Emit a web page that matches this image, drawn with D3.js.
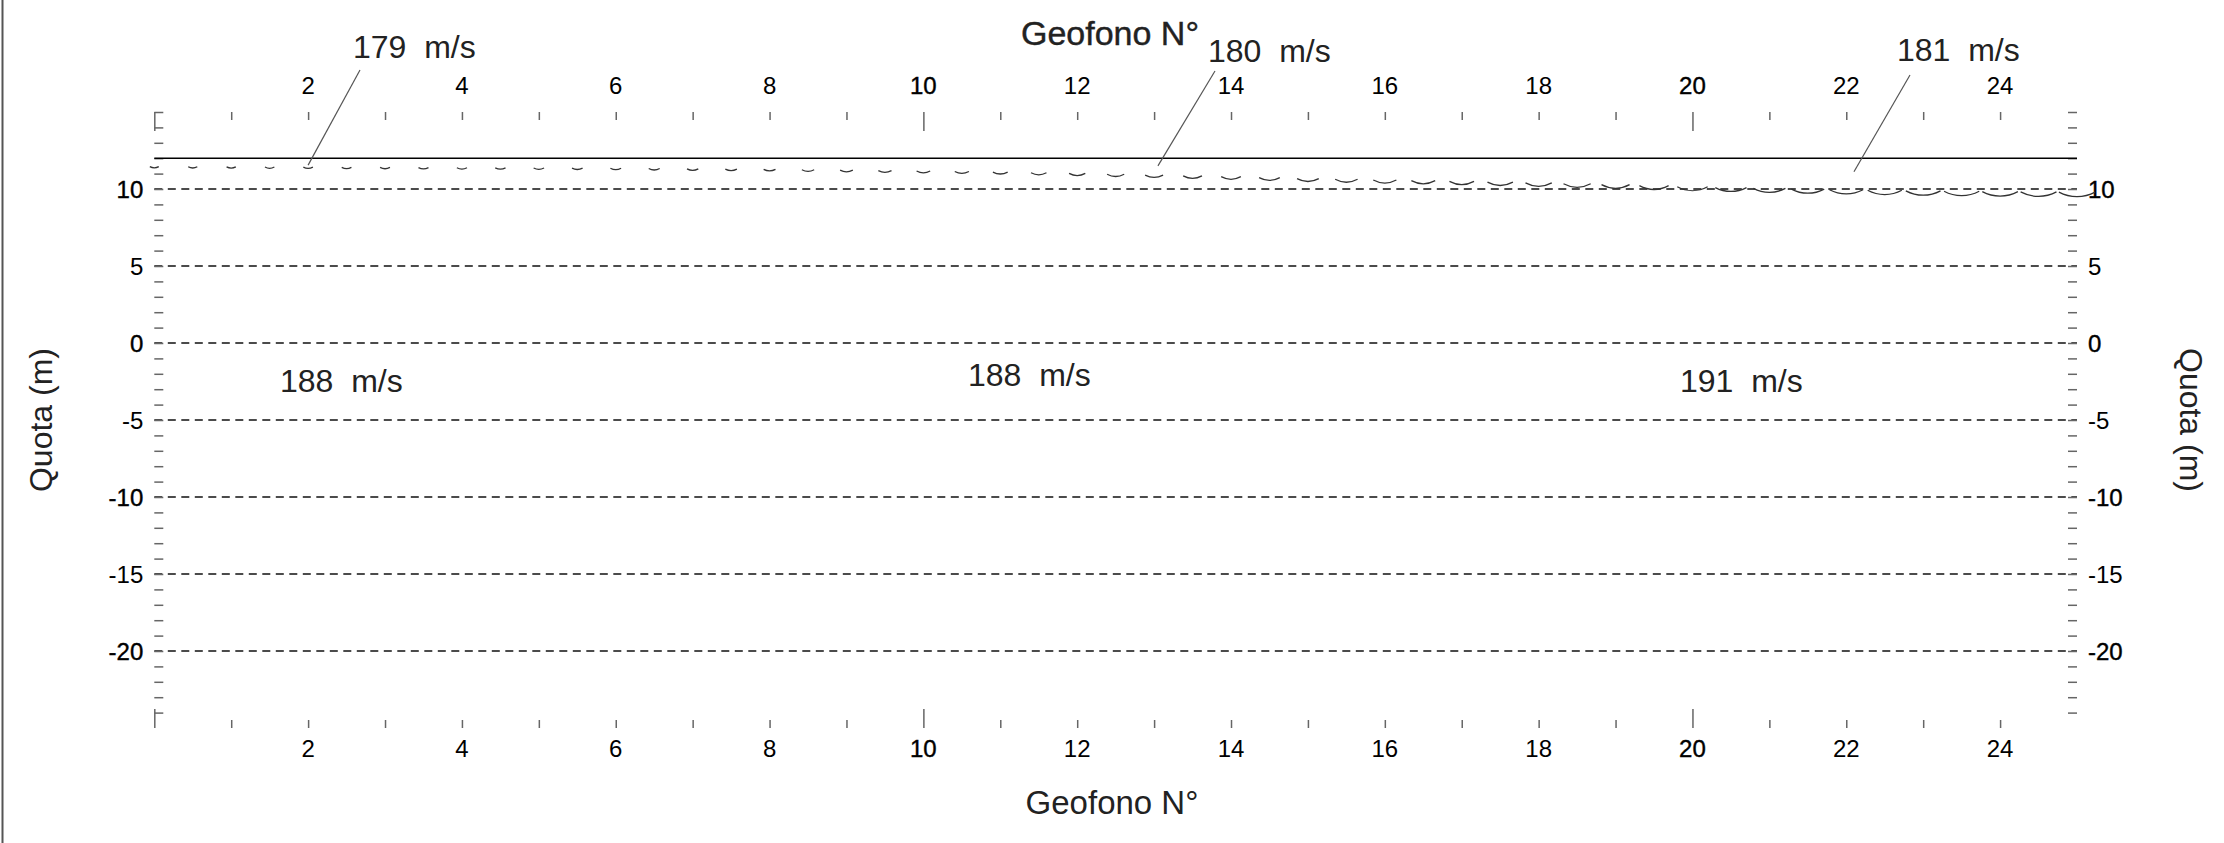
<!DOCTYPE html>
<html><head><meta charset="utf-8">
<script src="https://cdn.jsdelivr.net/npm/d3@7"></script>
<style>
body{margin:0;background:#fff;}
text{font-family:"Liberation Sans",Arial,sans-serif;}
</style>
</head><body>
<svg id="c" width="2224" height="843"></svg>
<script>
// ---------- data ----------
const xTicks = [0,1,2,3,4,5,6,7,8,9,10,11,12,13,14,15,16,17,18,19,20,21,22,23,24];
const xMajor = [0,10,20];
const xLabels = [2,4,6,8,10,12,14,16,18,20,22,24];
const yTicks = [15,14,13,12,11,10,9,8,7,6,5,4,3,2,1,0,-1,-2,-3,-4,-5,-6,-7,-8,-9,-10,-11,-12,-13,-14,-15,-16,-17,-18,-19,-20,-21,-22,-23,-24];
const yLabels = [10,5,0,-5,-10,-15,-20];
const surfaceElev = 12;
// geophone positions of the delay-time arcs and their depth below surface (m)
const arcX = [0,0.5,1,1.5,2,2.5,3,3.5,4,4.5,5,5.5,6,6.5,7,7.5,8,8.5,9,9.5,10,10.5,11,11.5,12,12.5,13,13.5,14,14.5,15,15.5,16,16.5,17,17.5,18,18.5,19,19.5,20,20.5,21,21.5,22,22.5,23,23.5,24,24.5,25];
const arcDepth = [0.62,0.63,0.64,0.65,0.66,0.67,0.68,0.69,0.70,0.71,0.72,0.73,0.74,0.76,0.78,0.80,0.82,0.85,0.88,0.91,0.94,0.98,1.02,1.07,1.12,1.18,1.24,1.30,1.36,1.43,1.50,1.55,1.60,1.65,1.70,1.76,1.82,1.88,1.94,2.02,2.10,2.16,2.22,2.27,2.32,2.36,2.40,2.43,2.46,2.48,2.50];
// velocity labels
const layer1Vel = ["179  m/s","180  m/s","181  m/s"];
const layer1TargetX = [2, 13.05, 22.1];
const layer1TargetElev = [11.55, 11.5, 11.12];
const layer2Vel = ["188  m/s","188  m/s","191  m/s"];

// ---------- layout ----------
const W = 2224, H = 843;
const x = d3.scaleLinear().domain([0,25]).range([154.3, 2077]);
const y = d3.scaleLinear().domain([-25,15]).range([728, 112]);
const svg = d3.select("#c");

// left frame line
svg.append("line").attr("x1",2.5).attr("x2",2.5).attr("y1",0).attr("y2",H)
  .attr("stroke","#555").attr("stroke-width",2);

// dashed grid lines
svg.append("g").selectAll("line").data(yLabels).join("line")
  .attr("x1", x(0)).attr("x2", x(25))
  .attr("y1", d=>y(d)).attr("y2", d=>y(d))
  .attr("stroke","#111").attr("stroke-width",1.3).attr("stroke-dasharray","8,5.5");

// y axes (ticks pointing inward)
function yAxisG(axis, tx){
  const g = svg.append("g").attr("transform",`translate(${tx},0)`).call(axis);
  g.select(".domain").remove();
  g.selectAll(".tick line").attr("stroke","#666").attr("stroke-width",1.5);
  return g;
}
yAxisG(d3.axisLeft(y).tickValues(yTicks).tickSizeInner(-9).tickSizeOuter(0).tickFormat(""), x(0));
yAxisG(d3.axisRight(y).tickValues(yTicks).tickSizeInner(-9).tickSizeOuter(0).tickFormat(""), x(25));

// y labels
const yl = svg.append("g").attr("font-size",24).attr("fill","#000");
yl.selectAll("text.l").data(yLabels).join("text").attr("class","l")
  .attr("x", x(0)-11).attr("y", d=>y(d)).attr("dy","0.36em").attr("text-anchor","end")
  .attr("stroke", d=> d%10===0 ? "#000":"none").attr("stroke-width",0.4)
  .text(d=>d);
yl.selectAll("text.r").data(yLabels).join("text").attr("class","r")
  .attr("x", x(25)+11).attr("y", d=>y(d)).attr("dy","0.36em").attr("text-anchor","start")
  .attr("stroke", d=> d%10===0 ? "#000":"none").attr("stroke-width",0.4)
  .text(d=>d);

// x axes (top & bottom), ticks pointing inward
function xAxisG(axis, ty){
  const g = svg.append("g").attr("transform",`translate(0,${ty})`).call(axis);
  g.select(".domain").remove();
  g.selectAll(".tick line").attr("stroke","#666").attr("stroke-width",1.5);
  return g;
}
const minorX = xTicks.filter(d=>!xMajor.includes(d));
xAxisG(d3.axisTop(x).tickValues(minorX).tickSizeInner(-8).tickSizeOuter(0).tickFormat(""), y(15));
xAxisG(d3.axisTop(x).tickValues(xMajor).tickSizeInner(-19).tickSizeOuter(0).tickFormat(""), y(15));
xAxisG(d3.axisBottom(x).tickValues(minorX).tickSizeInner(-8).tickSizeOuter(0).tickFormat(""), y(-25));
xAxisG(d3.axisBottom(x).tickValues(xMajor).tickSizeInner(-19).tickSizeOuter(0).tickFormat(""), y(-25));

// x labels
const xl = svg.append("g").attr("font-size",24).attr("fill","#000").attr("text-anchor","middle");
xl.selectAll("text.t").data(xLabels).join("text").attr("class","t")
  .attr("x", d=>x(d)).attr("y", 94)
  .attr("stroke", d=> d%10===0 ? "#000":"none").attr("stroke-width",0.4)
  .text(d=>d);
xl.selectAll("text.b").data(xLabels).join("text").attr("class","b")
  .attr("x", d=>x(d)).attr("y", 757)
  .attr("stroke", d=> d%10===0 ? "#000":"none").attr("stroke-width",0.4)
  .text(d=>d);

// axis titles
svg.append("text").attr("x",1110).attr("y",45).attr("font-size",34).attr("fill","#222")
  .attr("stroke","#222").attr("stroke-width",0.4)
  .attr("text-anchor","middle").text("Geofono N°");
svg.append("text").attr("x",1112).attr("y",814).attr("font-size",33).attr("fill","#222")
  .attr("text-anchor","middle").text("Geofono N°");
svg.append("text").attr("transform",`translate(52,${(y(15)+y(-25))/2}) rotate(-90)`)
  .attr("font-size",32).attr("fill","#222").attr("text-anchor","middle").text("Quota (m)");
svg.append("text").attr("transform",`translate(2180,${(y(15)+y(-25))/2}) rotate(90)`)
  .attr("font-size",32).attr("fill","#222").attr("text-anchor","middle").text("Quota (m)");

// surface line
svg.append("line").attr("x1",x(0)).attr("x2",x(25))
  .attr("y1",y(surfaceElev)).attr("y2",y(surfaceElev))
  .attr("stroke","#000").attr("stroke-width",1.6);

// arcs
const theta = 28*Math.PI/180;
svg.append("g").selectAll("path").data(arcX.map((d,i)=>({x:d, dep:arcDepth[i]}))).join("path")
  .attr("d", d=>{
    const cx = x(d.x), cy = y(surfaceElev), r = y(surfaceElev - d.dep) - cy;
    const dx = r*Math.sin(theta), dy = r*Math.cos(theta);
    return `M${cx-dx},${cy+dy} A${r},${r} 0 0 0 ${cx+dx},${cy+dy}`;
  })
  .attr("fill","none").attr("stroke","#333").attr("stroke-width",1.3);

// layer 1 velocity labels with leader lines
const l1pos = [{tx:353, ty:58, lx:360, ly:70},{tx:1208, ty:62, lx:1215, ly:71},{tx:1897, ty:61, lx:1910, ly:75}];
const lab = svg.append("g").attr("font-size",32).attr("fill","#222");
layer1Vel.forEach((v,i)=>{
  lab.append("text").attr("xml:space","preserve").attr("x",l1pos[i].tx).attr("y",l1pos[i].ty).text(v);
  svg.append("line").attr("x1",l1pos[i].lx).attr("y1",l1pos[i].ly)
    .attr("x2",x(layer1TargetX[i])).attr("y2",y(layer1TargetElev[i]))
    .attr("stroke","#555").attr("stroke-width",1.2);
});
const l2pos = [{tx:280, ty:392},{tx:968, ty:386},{tx:1680, ty:392}];
layer2Vel.forEach((v,i)=>{
  lab.append("text").attr("xml:space","preserve").attr("x",l2pos[i].tx).attr("y",l2pos[i].ty).text(v);
});
</script>
</body></html>
